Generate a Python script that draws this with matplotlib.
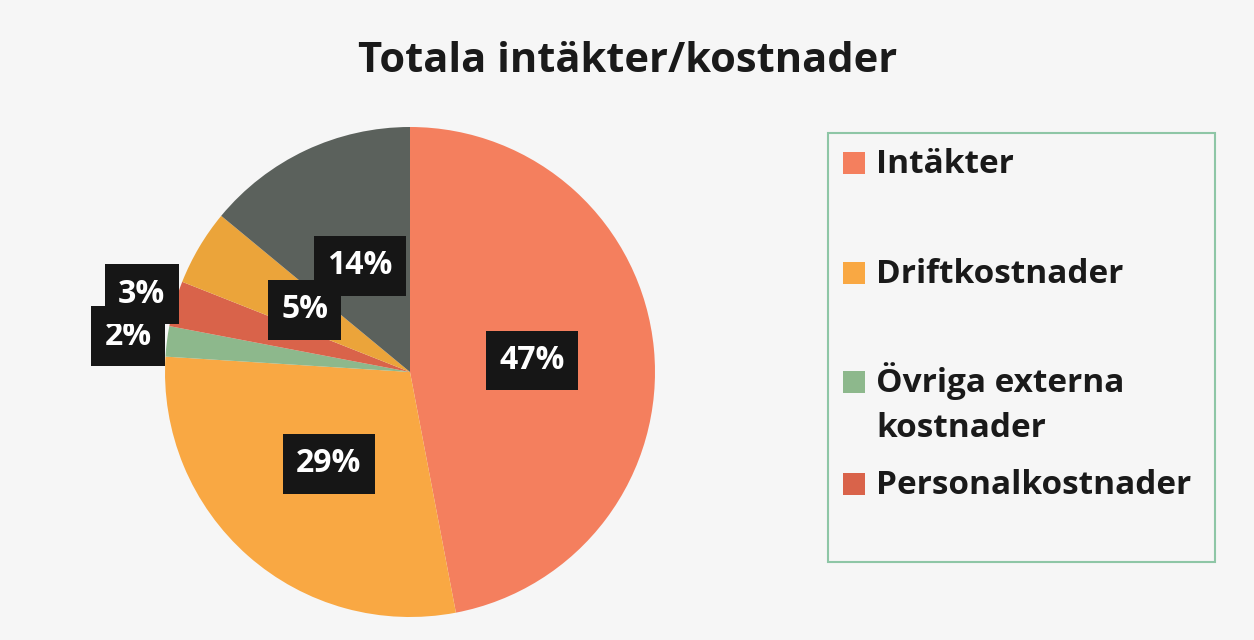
import numpy as np
import matplotlib.pyplot as plt
from matplotlib.patches import Rectangle

andelar = [47, 29, 2, 3, 5, 14]
etiketter = ['47%', '29%', '2%', '3%', '5%', '14%']
farger = ['#F47F5E', '#F9A843', '#8DB88C', '#D9634A', '#EBA43A', '#5B615C']
# hur langt ut fran mitten etiketterna sitter
avstand = [0.5, 0.5, 1.16, 1.14, 0.5, 0.48]

legend_namn = ['Intäkter', 'Driftkostnader', 'Övriga externa\nkostnader', 'Personalkostnader']
legend_farg = ['#F47F5E', '#F9A843', '#8DB88C', '#D9634A']
# baslinje for forsta raden, i pixlar fran toppen
legend_bas = [173, 283, 392, 494]

plt.rcParams['font.family'] = ['Open Sans', 'DejaVu Sans']

fig = plt.figure(figsize=(12.54, 6.4), dpi=100)
fig.patch.set_facecolor('#F6F6F6')

W, H = 1254, 640
cx, cy, r = 410, 372, 245
ax = fig.add_axes([(cx - r) / W, (H - cy - r) / H, 2 * r / W, 2 * r / H])
ax.axis('off')

wedges, _ = ax.pie(andelar, colors=farger, startangle=90, counterclock=False,
                   radius=1, wedgeprops=dict(linewidth=0))
ax.set_xlim(-1, 1)
ax.set_ylim(-1, 1)

for w, txt, d in zip(wedges, etiketter, avstand):
    mid = np.deg2rad((w.theta1 + w.theta2) / 2)
    ax.text(d * np.cos(mid), d * np.sin(mid), txt, ha='center', va='center',
            fontsize=23, fontweight='bold', color='white', clip_on=False,
            bbox=dict(boxstyle='square,pad=0.42', fc='#161616', ec='none'))

fig.text(628 / W, 1 - 62 / H, 'Totala intäkter/kostnader', ha='center', va='center',
         fontsize=30, fontweight='bold', color='#1A1A1A')

# legend-ruta
fig.patches.append(Rectangle((828 / W, (H - 562) / H), (1215 - 828) / W, (562 - 133) / H,
                             transform=fig.transFigure, fill=False,
                             edgecolor='#8EC6A6', linewidth=1.5))
for namn, f, b in zip(legend_namn, legend_farg, legend_bas):
    fig.patches.append(Rectangle((843 / W, 1 - (b + 1) / H), 22 / W, 22 / H,
                                 transform=fig.transFigure, facecolor=f, edgecolor='none'))
    rader = namn.split('\n')
    for i, rad in enumerate(rader):
        fig.text(876 / W, 1 - (b + i * 45) / H, rad, ha='left', va='baseline',
                 fontsize=24, fontweight='bold', color='#1A1A1A')

fig.savefig('out.png', dpi=100, facecolor=fig.get_facecolor())
